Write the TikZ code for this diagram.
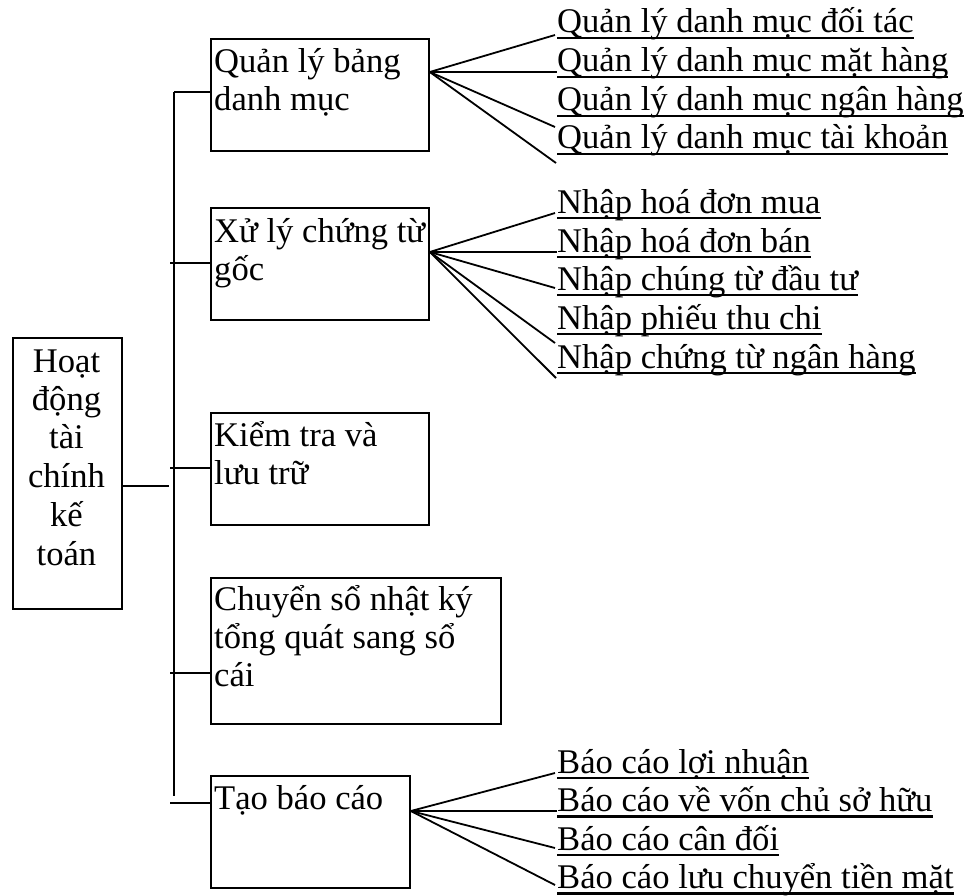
\documentclass[tikz,border=0pt]{standalone}
\usepackage{fontspec}
\setmainfont{Liberation Serif}
\newcommand\ulitem[3]{%
  \node[txt] (#1) at (557,#2) {#3};
  \draw[ul] ([yshift=-5pt]#1.base west) -- ([yshift=-5pt]#1.base east);}
\begin{document}
\begin{tikzpicture}[x=1pt,y=-1pt,
  box/.style={draw, line width=1.8pt, inner sep=0pt, anchor=north west},
  txt/.style={anchor=base west, inner sep=0pt, font=\fontsize{34.6}{40}\selectfont},
  ctxt/.style={anchor=base, inner sep=0pt, font=\fontsize{34.6}{40}\selectfont},
  conn/.style={line width=1.8pt},
  trunk/.style={line width=2.2pt},
  ul/.style={line width=2.6pt}]
\useasboundingbox (0,0) rectangle (971,896);

% root
\node[box, minimum width=109pt, minimum height=271pt] (root) at (12,337) {};
\node[ctxt] (r1) at (66.5,372) {Hoạt};
\node[ctxt] (r2) at (66.5,410) {động};
\node[ctxt] (r3) at (66.5,448.5) {tài};
\node[ctxt] (r4) at (66.5,487) {chính};
\node[ctxt] (r5) at (66.5,526) {kế};
\node[ctxt] (r6) at (66.5,565) {toán};

% boxes
\node[box, minimum width=218pt, minimum height=112pt] (b1) at (210,38) {};
\node[txt] (b1a) at (214,73) {Quản lý bảng};
\node[txt] (b1b) at (214,111) {danh mục};

\node[box, minimum width=218pt, minimum height=112pt] (b2) at (210,207) {};
\node[txt] (b2a) at (214,242) {Xử lý chứng từ};
\node[txt] (b2b) at (214,280) {gốc};

\node[box, minimum width=218pt, minimum height=112pt] (b3) at (210,412) {};
\node[txt] (b3a) at (214,446) {Kiểm tra và};
\node[txt] (b3b) at (214,484) {lưu trữ};

\node[box, minimum width=290pt, minimum height=146pt] (b4) at (210,577) {};
\node[txt] (b4a) at (214,610) {Chuyển sổ nhật ký};
\node[txt] (b4b) at (214,648) {tổng quát sang sổ};
\node[txt] (b4c) at (214,686) {cái};

\node[box, minimum width=199pt, minimum height=112pt] (b5) at (210,775) {};
\node[txt] (b5a) at (214,809) {Tạo báo cáo};

% trunk and branches
\coordinate (ttop) at (174,92);
\coordinate (tbot) at (174,796);
\draw[trunk] (ttop) -- (tbot);
\draw[conn] (ttop) -- (ttop -| b1.west);
\coordinate (t2) at (170,263);
\coordinate (t3) at (170,468);
\coordinate (t4) at (170,673);
\coordinate (t5) at (170,803);
\draw[conn] (t2) -- (t2 -| b2.west);
\draw[conn] (t3) -- (t3 -| b3.west);
\draw[conn] (t4) -- (t4 -| b4.west);
\draw[conn] (t5) -- (t5 -| b5.west);
\coordinate (rj) at (169,486);
\draw[conn] (root.east |- rj) -- (rj);

% items
\ulitem{i11}{33}{Quản lý danh mục đối tác}
\ulitem{i12}{72}{Quản lý danh mục mặt hàng}
\ulitem{i13}{111}{Quản lý danh mục ngân hàng}
\ulitem{i14}{149}{Quản lý danh mục tài khoản}

\ulitem{i21}{213}{Nhập hoá đơn mua}
\ulitem{i22}{252}{Nhập hoá đơn bán}
\ulitem{i23}{290}{Nhập chúng từ đầu tư}
\ulitem{i24}{329}{Nhập phiếu thu chi}
\ulitem{i25}{368}{Nhập chứng từ ngân hàng}

\ulitem{i51}{773}{Báo cáo lợi nhuận}
\ulitem{i52}{811.5}{Báo cáo về vốn chủ sở hữu}
\ulitem{i53}{850}{Báo cáo cân đối}
\ulitem{i54}{888.5}{Báo cáo lưu chuyển tiền mặt}

% fans
\coordinate (f1) at (b1.east |- 0,72);
\coordinate (e11) at (555,35);
\coordinate (e12) at (557,72);
\coordinate (e13) at (555,127);
\coordinate (e14) at (556,163);
\foreach \e in {e11,e12,e13,e14} \draw[conn] (f1) -- (\e);

\coordinate (f2) at (b2.east |- 0,252);
\coordinate (e21) at (555,213);
\coordinate (e22) at (557,252);
\coordinate (e23) at (555,288);
\coordinate (e24) at (555,343);
\coordinate (e25) at (556,378);
\foreach \e in {e21,e22,e23,e24,e25} \draw[conn] (f2) -- (\e);

\coordinate (f5) at (b5.east |- 0,811);
\coordinate (e51) at (555,773);
\coordinate (e52) at (557,811);
\coordinate (e53) at (555,848);
\coordinate (e54) at (555,885);
\foreach \e in {e51,e52,e53,e54} \draw[conn] (f5) -- (\e);
\end{tikzpicture}
\end{document}
